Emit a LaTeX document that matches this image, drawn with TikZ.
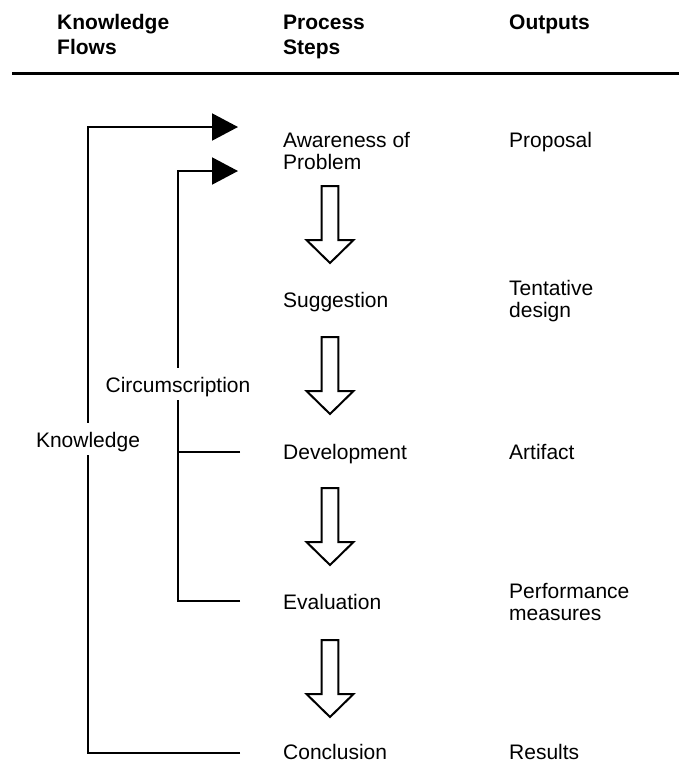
\documentclass[tikz,border=0pt]{standalone}
\usepackage{fontspec}
\setmainfont{Liberation Sans}
\usetikzlibrary{arrows.meta}
\newcommand\twolines[2]{\vtop{\hbox{#1}\hbox{#2}}}
\tikzset{
  txt/.style={anchor=base west, inner sep=0pt},
  head/.style={txt, font=\fontsize{21}{25}\selectfont\bfseries},
  flow/.style={line width=2pt},
  flowtip/.style={flow, -{Triangle[length=26pt,width=27pt]}},
  gaplabel/.style={anchor=base, fill=white, inner xsep=3pt, inner ysep=0pt, text height=24.5pt, text depth=7.5pt},
  downarrow/.pic={\draw[line width=2pt, fill=white] (-8.3,0) -- (8.3,0) -- (8.3,54) -- (23.5,54) -- (0,77) -- (-23.5,54) -- (-8.3,54) -- cycle;}
}
\begin{document}
\begin{tikzpicture}[x=1pt,y=-1pt,font=\fontsize{21}{22}\selectfont]
\useasboundingbox (0,0) rectangle (679,763);
% header
\node[head] (hk) at (57,29) {\twolines{Knowledge}{Flows}};
\node[head] (hp) at (283,29) {\twolines{Process}{Steps}};
\node[head] (ho) at (509,29) {Outputs};
\coordinate (ruleL) at (12,73);
\coordinate (ruleR) at (679,73);
\draw[line width=3pt] (ruleL) -- (ruleR);
% process steps
\node[txt] (s1) at (283,147) {\twolines{Awareness of}{Problem}};
\node[txt] (s2) at (283,307) {Suggestion};
\node[txt] (s3) at (283,459) {Development};
\node[txt] (s4) at (283,609) {Evaluation};
\node[txt] (s5) at (283,759) {Conclusion};
% outputs
\node[txt] (o1) at (509,147) {Proposal};
\node[txt] (o2) at (509,295) {\twolines{Tentative}{design}};
\node[txt] (o3) at (509,459) {Artifact};
\node[txt] (o4) at (509,598) {\twolines{Performance}{measures}};
\node[txt] (o5) at (509,759) {Results};
% block arrows
\pic at (330,186) {downarrow};
\pic at (330,337) {downarrow};
\pic at (330,488) {downarrow};
\pic at (330,640) {downarrow};
% knowledge flow lines
\coordinate (kB) at (240,753);
\coordinate (kT) at (238,127);
\draw[flowtip] (kB) -- ++(-152,0) |- (kT);
\coordinate (cB) at (240,601);
\coordinate (cT) at (238,171);
\draw[flowtip] (cB) -- ++(-62,0) |- (cT);
\coordinate (cD) at (240,452);
\draw[flow] (cD) -- ++(-62,0);
% labels on the lines
\node[gaplabel] (know) at (88,447) {Knowledge};
\node[gaplabel] (circ) at (178,392) {Circumscription};
\end{tikzpicture}
\end{document}
